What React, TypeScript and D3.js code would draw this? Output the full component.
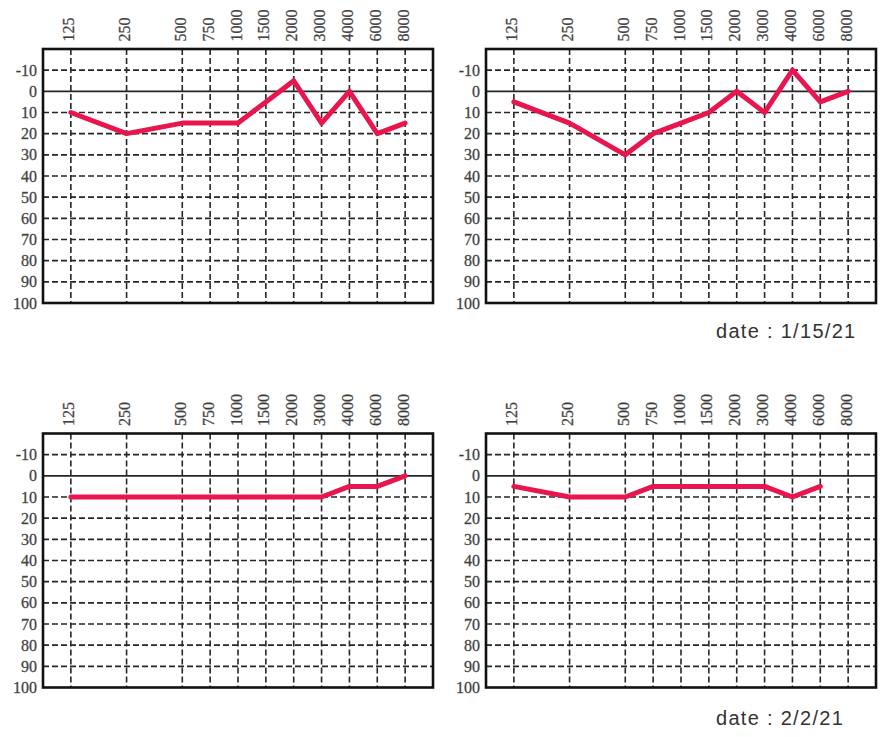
import React from "react";
import * as d3 from "d3";

const FREQUENCIES = [125, 250, 500, 750, 1000, 1500, 2000, 3000, 4000, 6000, 8000];
const LEVEL_TICKS = [-10, 0, 10, 20, 30, 40, 50, 60, 70, 80, 90, 100];

const TEST_A = [10, 20, 15, 15, 15, 5, -5, 15, 0, 20, 15];
const TEST_B = [5, 15, 30, 20, 15, 10, 0, 10, -10, 5, 0];
const TEST_C = [10, 10, 10, 10, 10, 10, 10, 10, 5, 5, 0];
const TEST_D = [5, 10, 10, 5, 5, 5, 5, 5, 10, 5, null];
const DATE_LABELS = ["", "date : 1/15/21", "", "date : 2/2/21"];

const WIDTH = 892;
const HEIGHT = 737;
const PLOT_W = 390;
const PLOT_H = 254;
const PANELS = [
	{ left: 43, top: 49, dateDy: 35 },
	{ left: 486, top: 49, dateDy: 35 },
	{ left: 43, top: 433.5, dateDy: 37.5 },
	{ left: 486, top: 433.5, dateDy: 37.5 },
];
const SERIES = [TEST_A, TEST_B, TEST_C, TEST_D];
const LINE_COLOR = "#e8154e";
const GRID_COLOR = "#262626";
const LABEL_FONT = "'Liberation Serif', serif";

const xScale = d3.scaleLinear().domain([-1, 13]).range([0, PLOT_W]);
const yScale = d3.scaleLinear().domain([-20, 100]).range([0, PLOT_H]);
// half-octave slots: 125 -> 0, 250 -> 2, 750 -> 5 ...
const freqX = (f: number) => xScale(Math.round(2 * Math.log2(f / 125)));

type Point = { f: number; v: number | null };

const Audiogram = ({ values, date, left, top, dateDy }: {
	values: (number | null)[];
	date: string;
	left: number;
	top: number;
	dateDy: number;
}) => {
	const points: Point[] = FREQUENCIES.map((f, i) => ({ f, v: values[i] }));
	const path = d3
		.line<Point>()
		.defined((d) => d.v !== null)
		.x((d) => freqX(d.f))
		.y((d) => yScale(d.v as number))(points);

	return (
		<g transform={`translate(${left},${top})`}>
			{LEVEL_TICKS.filter((t) => t !== 100).map((t) => (
				<line
					key={"h" + t}
					x1={0}
					x2={PLOT_W}
					y1={yScale(t)}
					y2={yScale(t)}
					stroke={GRID_COLOR}
					strokeWidth={1.6}
					strokeDasharray={t === 0 ? undefined : "6,3"}
				/>
			))}
			{FREQUENCIES.map((f) => (
				<line
					key={"v" + f}
					x1={freqX(f)}
					x2={freqX(f)}
					y1={0}
					y2={PLOT_H}
					stroke={GRID_COLOR}
					strokeWidth={1.6}
					strokeDasharray="6,3"
				/>
			))}
			<rect width={PLOT_W} height={PLOT_H} fill="none" stroke="#111" strokeWidth={2.6} />
			{LEVEL_TICKS.map((t) => (
				<text
					key={"y" + t}
					x={-6}
					y={yScale(t)}
					dy="0.35em"
					textAnchor="end"
					fontFamily={LABEL_FONT}
					fontSize={16}
					fill="#3a3a3a"
					stroke="#555"
					strokeWidth={0.3}
				>
					{t}
				</text>
			))}
			{FREQUENCIES.map((f) => (
				<text
					key={"x" + f}
					transform={`translate(${freqX(f) + 3.5},${-7.5}) rotate(-90)`}
					textAnchor="start"
					fontFamily={LABEL_FONT}
					fontSize={16}
					fill="#3a3a3a"
					stroke="#555"
					strokeWidth={0.3}
				>
					{f}
				</text>
			))}
			{path && (
				<path
					d={path}
					fill="none"
					stroke={LINE_COLOR}
					strokeWidth={5}
					strokeLinejoin="round"
					strokeLinecap="round"
				/>
			)}
			{date && (
				<text
					x={230}
					y={PLOT_H + dateDy}
					fontFamily="'Liberation Sans', Arial, sans-serif"
					fontSize={20}
					letterSpacing={1.3}
					fill="#333"
				>
					{date}
				</text>
			)}
		</g>
	);
};

export default function App() {
	return (
		<div style={{ position: "absolute", left: 0, top: 0 }}>
			<svg width={WIDTH} height={HEIGHT} style={{ display: "block", background: "#fff" }}>
				{PANELS.map((p, i) => (
					<Audiogram
						key={i}
						values={SERIES[i]}
						date={DATE_LABELS[i]}
						left={p.left}
						top={p.top}
						dateDy={p.dateDy}
					/>
				))}
			</svg>
		</div>
	);
}
